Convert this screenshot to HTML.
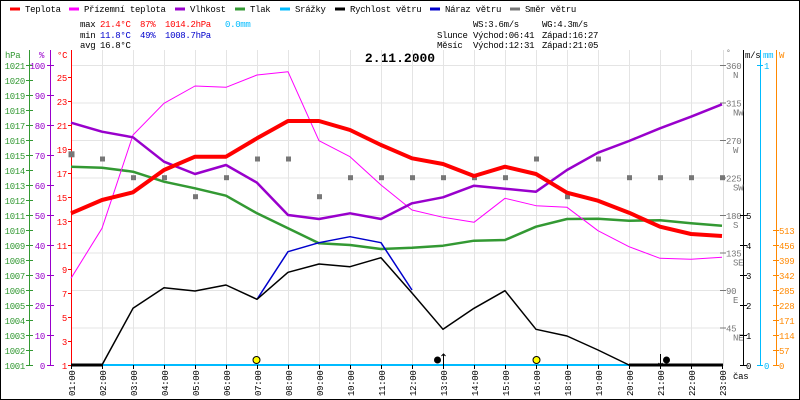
<!DOCTYPE html>
<html><head><meta charset="utf-8"><style>
html,body{margin:0;padding:0;background:#fff}
svg{display:block}
text{font-family:"Liberation Mono",monospace;font-size:9px;letter-spacing:-0.3px}
</style></head><body>
<svg width="800" height="400" xmlns="http://www.w3.org/2000/svg">
<rect x="0.5" y="0.5" width="799" height="399" fill="#fff" stroke="#000"/>
<g stroke-width="3">
<line x1="10" y1="9" x2="20" y2="9" stroke="#f00"/>
<line x1="69" y1="9" x2="79" y2="9" stroke="#f0f"/>
<line x1="175" y1="9" x2="185" y2="9" stroke="#90c"/>
<line x1="235" y1="9" x2="245" y2="9" stroke="#393"/>
<line x1="280" y1="9" x2="290" y2="9" stroke="#0bf"/>
<line x1="335" y1="9" x2="345" y2="9" stroke="#000"/>
<line x1="430" y1="9" x2="440" y2="9" stroke="#00c"/>
<line x1="510" y1="9" x2="520" y2="9" stroke="#777"/>
</g>
<g fill="#000">
<text x="25" y="12">Teplota</text>
<text x="84" y="12">Přízemní teplota</text>
<text x="190" y="12">Vlhkost</text>
<text x="250" y="12">Tlak</text>
<text x="295" y="12">Srážky</text>
<text x="350" y="12">Rychlost větru</text>
<text x="445" y="12">Náraz větru</text>
<text x="525" y="12">Směr větru</text>
<text x="80" y="27">max</text><text x="80" y="38">min</text><text x="80" y="48">avg</text>
<text x="100" y="48">16.8°C</text>
<text x="473" y="27">WS:3.6m/s</text><text x="542" y="27">WG:4.3m/s</text>
<text x="437" y="38">Slunce</text><text x="473" y="38">Východ:06:41</text><text x="542" y="38">Západ:16:27</text>
<text x="437" y="48">Měsíc</text><text x="473" y="48">Východ:12:31</text><text x="542" y="48">Západ:21:05</text>
</g>
<g fill="#f00"><text x="100" y="27">21.4°C</text><text x="140" y="27">87%</text><text x="165" y="27">1014.2hPa</text></g>
<text x="225" y="27" fill="#0bf">0.0mm</text>
<g fill="#00c"><text x="100" y="38">11.8°C</text><text x="140" y="38">49%</text><text x="165" y="38">1008.7hPa</text></g>
<text x="400" y="62" text-anchor="middle" style="font-size:13px;font-weight:bold;letter-spacing:0">2.11.2000</text>

<g stroke="#e4e4e4" stroke-width="1">
<line x1="71" y1="65.5" x2="723" y2="65.5"/><line x1="71" y1="103" x2="723" y2="103"/>
<line x1="71" y1="140.5" x2="723" y2="140.5"/><line x1="71" y1="178" x2="723" y2="178"/>
<line x1="71" y1="215.5" x2="723" y2="215.5"/><line x1="71" y1="253" x2="723" y2="253"/>
<line x1="71" y1="290.5" x2="723" y2="290.5"/><line x1="71" y1="328" x2="723" y2="328"/>
</g>
<g stroke="#e4e4e4" id="vg"></g>

<g stroke="#393" fill="#393"><line x1="29.5" y1="50" x2="29.5" y2="366"/></g>
<g stroke="#90c"><line x1="50.5" y1="50" x2="50.5" y2="366"/></g>
<g stroke="#f00"><line x1="71.5" y1="50" x2="71.5" y2="366"/></g>
<text x="5" y="58" fill="#393">hPa</text><text x="39" y="58" fill="#90c">%</text><text x="57" y="58" fill="#f00">°C</text>
<g id="lax"></g>
<line x1="723.5" y1="50" x2="723.5" y2="366" stroke="#ddd"/>
<line x1="743.5" y1="50" x2="743.5" y2="366" stroke="#000"/>
<line x1="760.5" y1="50" x2="760.5" y2="366" stroke="#0bf"/>
<line x1="776.5" y1="50" x2="776.5" y2="366" stroke="#f80"/>
<text x="726" y="55" fill="#777" style="font-size:8px">°</text>
<text x="745" y="58" fill="#000">m/s</text><text x="763" y="58" fill="#0bf">mm</text><text x="779" y="58" fill="#f80">W</text>
<g id="rax"></g>
<g id="ser"></g>
</svg>
<script>
var NS="http://www.w3.org/2000/svg";
function el(p,t,a,txt){var e=document.createElementNS(NS,t);for(var k in a)e.setAttribute(k,a[k]);if(txt!=null)e.textContent=txt;p.appendChild(e);return e;}
var X=function(k){return 71+31*k;};
var vg=document.getElementById('vg');
var hrs=[1,2,3,4,5,6,7,8,9,10,11,12,13,14,15,16,18,19,20,21,22,23];
var svg=document.querySelector('svg');
for(var k=0;k<22;k++){var x=X(k)+0.5;if(k>0&&k<21)el(vg,'line',{x1:x,y1:50,x2:x,y2:365});
 el(svg,'line',{x1:x,y1:365,x2:x,y2:369,stroke:'#000'});
 var h=(hrs[k]<10?'0':'')+hrs[k]+':00';
 el(svg,'text',{x:0,y:0,transform:'translate('+(X(k)+4)+',396) rotate(-90)',fill:'#000'},h);}
el(svg,'text',{x:733,y:379,fill:'#000'},'čas');
var lax=document.getElementById('lax');
for(var i=0;i<=20;i++){var y=365-15*i;el(lax,'line',{x1:26,y1:y+.5,x2:33,y2:y+.5,stroke:'#393'});el(lax,'text',{x:25,y:y+4,'text-anchor':'end',fill:'#393'},String(1001+i));}
for(var i=0;i<=10;i++){var y=365-30*i;el(lax,'line',{x1:47,y1:y+.5,x2:54,y2:y+.5,stroke:'#90c'});el(lax,'text',{x:45,y:y+4,'text-anchor':'end',fill:'#90c'},String(i*10));}
for(var t=1;t<=25;t+=2){var y=365-12*(t-1);el(lax,'line',{x1:68,y1:y+.5,x2:71,y2:y+.5,stroke:'#f00'});el(lax,'text',{x:67,y:y+4,'text-anchor':'end',fill:'#f00'},String(t));}
var rax=document.getElementById('rax');
var dirs=[[45,'NE'],[90,'E'],[135,'SE'],[180,'S'],[225,'SW'],[270,'W'],[315,'NW'],[360,'N']];
dirs.forEach(function(d){var y=365-d[0]*300/360;el(rax,'line',{x1:720,y1:y+.5,x2:726,y2:y+.5,stroke:'#777'});el(rax,'text',{x:726,y:y+4,fill:'#777'},String(d[0]));el(rax,'text',{x:733,y:y+13,fill:'#777'},d[1]);});
for(var i=0;i<=5;i++){var y=365-30*i;el(rax,'line',{x1:740,y1:y+.5,x2:747,y2:y+.5,stroke:'#000'});el(rax,'text',{x:746,y:y+4,fill:'#000'},String(i));}
[[0,365],[1,65]].forEach(function(d){el(rax,'line',{x1:757,y1:d[1]+.5,x2:763,y2:d[1]+.5,stroke:'#0bf'});el(rax,'text',{x:764,y:d[1]+4,fill:'#0bf'},String(d[0]));});
for(var i=0;i<=9;i++){var y=365-15*i;el(rax,'line',{x1:773,y1:y+.5,x2:779,y2:y+.5,stroke:'#f80'});el(rax,'text',{x:779,y:y+4,fill:'#f80'},String(57*i));}
var ser=document.getElementById('ser');
function pl(arr,col,w,k0){var p=arr.map(function(y,i){return X(i+(k0||0))+','+y;}).join(' ');el(ser,'polyline',{points:p,fill:'none',stroke:col,'stroke-width':w,'stroke-linejoin':'round'});}
var dir=[154.3,159,177.7,177.7,196.7,177.7,159,159,196.7,177.7,177.7,177.7,177.7,177.7,177.7,159,196.7,159,177.7,177.7,177.7,177.7];
dir.forEach(function(y,k){var s=k==0?6:5;el(ser,'rect',{x:X(k)-s/2+0.5,y:y-s/2,width:s,height:s,fill:'#777'});});
pl([166.7,167.7,171.7,181.7,188.3,195.7,213.3,228.3,243.3,245,249,247.7,245.7,240.7,240,226.7,219,218.7,220.7,220.3,223.3,225.7],'#393',2.5);
pl([278.3,228.3,135,103.3,86,87.3,75,71.7,140.7,156.7,185,210,217.3,222.3,198.3,205.7,207.3,230.7,246.7,258.3,259.3,257.3],'#f0f',1);
pl([122.7,131.7,137.3,161.7,174,165,182.7,215,219,213.3,219,203.3,197.3,185.7,188.7,191.7,170,152.7,141,128.3,116.7,104.3],'#90c',2.5);
pl([213.3,200,192.3,170,156.7,156.7,138.3,121,121,130,145,158.3,164,176,166.7,174,192.7,200.7,212.7,226.7,234,236],'#f00',4);
el(ser,'line',{x1:71,y1:365,x2:723,y2:365,stroke:'#0bf','stroke-width':2});
pl([299.3,251.7,242.7,236.7,242.7,290],'#00c',1.5,6);
pl([365,365,308.3,287.7,291,285,299.3,272.3,264,266.7,257.7,293,329.3,308.3,290.7,329.3,336,350,365,365,365,365],'#000',1.5);
el(ser,'line',{x1:71,y1:365,x2:102,y2:365,stroke:'#000','stroke-width':3});
el(ser,'line',{x1:629,y1:365,x2:723,y2:365,stroke:'#000','stroke-width':3});
el(ser,'circle',{cx:256.5,cy:360,r:3.5,fill:'#ff0',stroke:'#000','stroke-width':1});
el(ser,'circle',{cx:536.5,cy:360,r:3.5,fill:'#ff0',stroke:'#000','stroke-width':1});
el(ser,'circle',{cx:437.5,cy:360,r:3.5,fill:'#000'});
el(ser,'circle',{cx:666.5,cy:360,r:3.5,fill:'#000'});
el(ser,'path',{d:'M443.5 365V354M441.5 356L443.5 354L445.5 356',stroke:'#000',fill:'none'});
el(ser,'path',{d:'M660.5 354V365M658.5 363L660.5 365L662.5 363',stroke:'#000',fill:'none'});
</script>
</body></html>
